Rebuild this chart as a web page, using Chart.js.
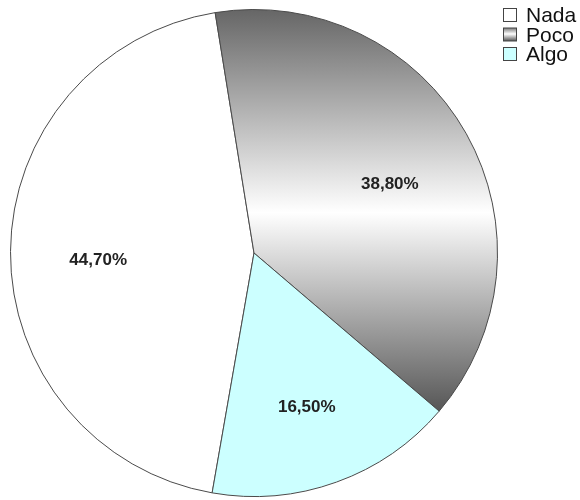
<!DOCTYPE html>
<html>
<head>
<meta charset="utf-8">
<script src="https://cdn.jsdelivr.net/npm/chart.js@4.4.1/dist/chart.umd.min.js"></script>
<style>
  body { margin: 0; background: #fff; }
</style>
</head>
<body>
<canvas id="pie-chart" width="580" height="500"></canvas>
<script>
const labels = ['Nada', 'Poco', 'Algo'];
const values = [44.7, 38.8, 16.5];
const valueLabels = ['44,70%', '38,80%', '16,50%'];

document.addEventListener('DOMContentLoaded', function () {
    const ctx = document.getElementById('pie-chart').getContext('2d');

    function pocoFill(chart, top, bottom) {
        const g = chart.ctx.createLinearGradient(0, top, 0, bottom);
        g.addColorStop(0, '#676767');
        g.addColorStop(0.5, '#ffffff');
        g.addColorStop(1, '#545454');
        return g;
    }

    // labels inside slices
    const sliceLabels = {
        id: 'sliceLabels',
        afterDatasetsDraw(chart) {
            const c = chart.ctx;
            const meta = chart.getDatasetMeta(0);
            c.save();
            c.font = 'bold 17px "Liberation Sans", Arial, sans-serif';
            c.fillStyle = '#222';
            c.textAlign = 'center';
            c.textBaseline = 'middle';
            meta.data.forEach((arc, i) => {
                const p = arc.getProps(['x', 'y', 'startAngle', 'endAngle', 'outerRadius']);
                const mid = (p.startAngle + p.endAngle) / 2;
                const r = p.outerRadius * 0.64;
                c.fillText(valueLabels[i], p.x + Math.cos(mid) * r, p.y + Math.sin(mid) * r + 8);
            });
            c.restore();
        }
    };

    // legend top right
    const cornerLegend = {
        id: 'cornerLegend',
        afterDraw(chart) {
            const c = chart.ctx;
            const fills = ['#ffffff', null, '#ccffff'];
            c.save();
            c.font = '21px "Liberation Sans", Arial, sans-serif';
            c.textBaseline = 'alphabetic';
            labels.forEach((lab, i) => {
                const y = 8 + i * 19.5;
                if (i === 1) {
                    const g = c.createLinearGradient(0, y, 0, y + 13);
                    g.addColorStop(0, '#707070');
                    g.addColorStop(0.5, '#ffffff');
                    g.addColorStop(1, '#606060');
                    c.fillStyle = g;
                } else {
                    c.fillStyle = fills[i];
                }
                c.fillRect(503.5, y + 0.5, 13, 13);
                c.strokeStyle = '#444';
                c.lineWidth = 1;
                c.strokeRect(503.5, y + 0.5, 13, 13);
                c.fillStyle = '#111';
                c.fillText(lab, 526, y + 14);
            });
            c.restore();
        }
    };

    new Chart(ctx, {
        type: 'pie',
        data: {
            labels: labels,
            datasets: [{
                data: values,
                backgroundColor: function (context) {
                    if (context.dataIndex === 1) {
                        const area = context.chart.chartArea;
                        if (!area) return '#aaa';
                        return pocoFill(context.chart, area.top + 2, area.top + 405);
                    }
                    return context.dataIndex === 0 ? '#ffffff' : '#ccffff';
                },
                borderColor: '#4a4a4a',
                borderWidth: 1
            }]
        },
        options: {
            responsive: false,
            animation: false,
            rotation: 189.9,
            layout: { padding: { left: 10, right: 82, top: 9, bottom: 3 } },
            plugins: {
                legend: { display: false },
                tooltip: { enabled: false }
            }
        },
        plugins: [sliceLabels, cornerLegend]
    });
});
</script>
</body>
</html>
